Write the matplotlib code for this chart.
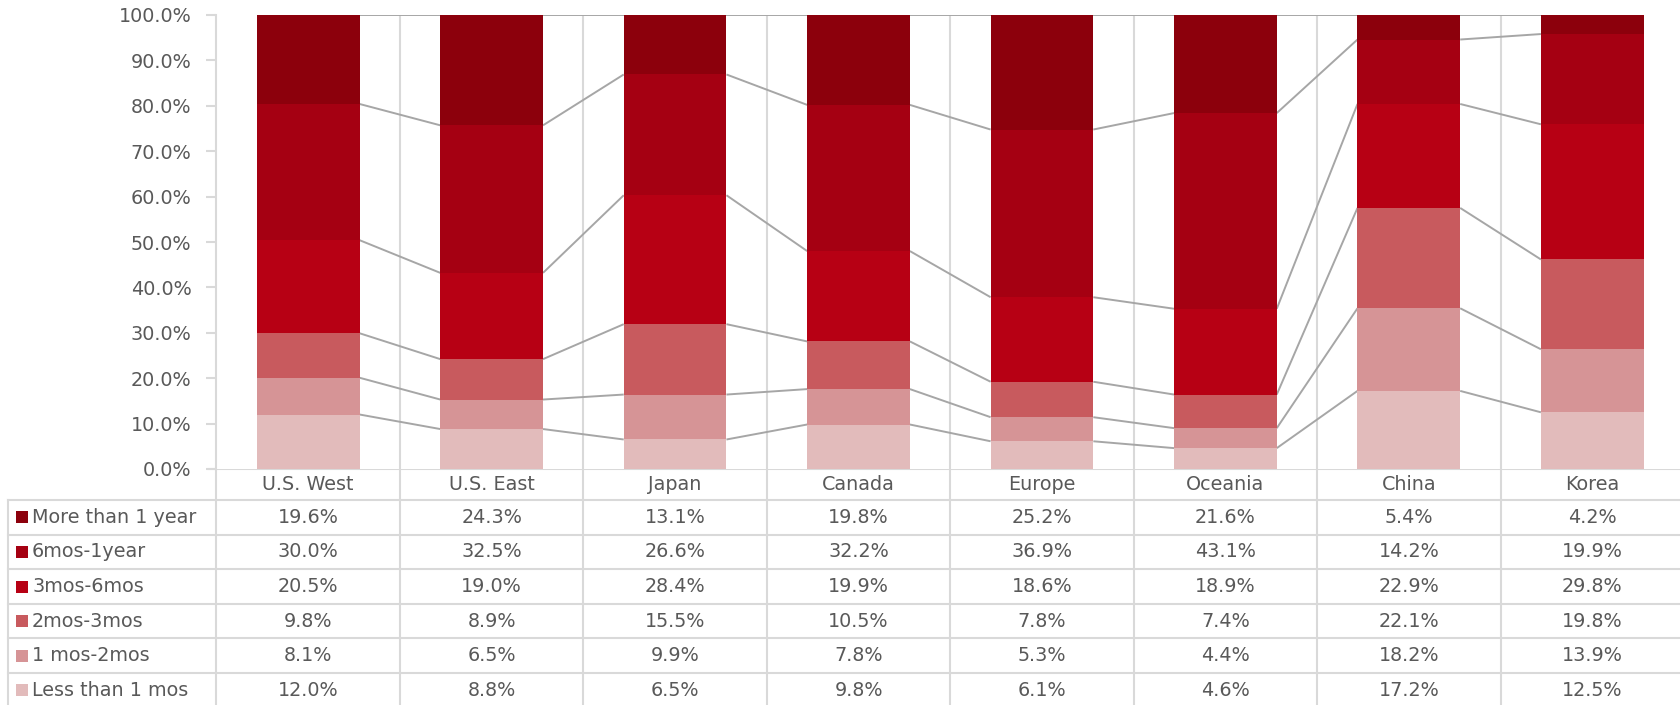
import matplotlib
matplotlib.use("Agg")
import matplotlib.pyplot as plt
import numpy as np
from matplotlib.patches import Rectangle

plt.rcParams["font.family"] = ["DejaVu Sans"]

categories = ["U.S. West", "U.S. East", "Japan", "Canada", "Europe", "Oceania", "China", "Korea"]

# stacked bottom -> top
series_names = ["Less than 1 mos", "1 mos-2mos", "2mos-3mos", "3mos-6mos", "6mos-1year", "More than 1 year"]
less_1mos = [12.0, 8.8, 6.5, 9.8, 6.1, 4.6, 17.2, 12.5]
mos_1_2 = [8.1, 6.5, 9.9, 7.8, 5.3, 4.4, 18.2, 13.9]
mos_2_3 = [9.8, 8.9, 15.5, 10.5, 7.8, 7.4, 22.1, 19.8]
mos_3_6 = [20.5, 19.0, 28.4, 19.9, 18.6, 18.9, 22.9, 29.8]
mos_6_12 = [30.0, 32.5, 26.6, 32.2, 36.9, 43.1, 14.2, 19.9]
more_1yr = [19.6, 24.3, 13.1, 19.8, 25.2, 21.6, 5.4, 4.2]
series = [less_1mos, mos_1_2, mos_2_3, mos_3_6, mos_6_12, more_1yr]
colors = ["#E2BBBB", "#D69496", "#C85A5E", "#B70014", "#A50012", "#8C000C"]

TXT = "#595959"
GRID = "#D9D9D9"
SER = "#A6A6A6"
W, H = 1681, 705
FS = 13.8

fig = plt.figure(figsize=(W / 100, H / 100), dpi=100)

# plot area in pixels (from top-left)
left_px, right_px, top_px, base_px = 216.5, 1684.0, 15.0, 469.0
col_w = (right_px - left_px) / len(categories)
ax = fig.add_axes([left_px / W, (H - base_px) / H, (right_px - left_px) / W, (base_px - top_px) / H])
ax.set_xlim(-0.5, len(categories) - 0.5)
ax.set_ylim(0, 100)

vals = np.array(series, dtype=float)
vals = vals / vals.sum(axis=0) * 100
x = np.arange(len(categories))
bw = 0.56
bottom = np.zeros(len(categories))
tops = []
for v, c in zip(vals, colors):
    ax.bar(x, v, bw, bottom=bottom, color=c, edgecolor="none", zorder=3)
    bottom = bottom + v
    tops.append(bottom.copy())

# series lines
for t in tops:
    for j in range(len(categories) - 1):
        ax.plot([x[j] + bw / 2, x[j + 1] - bw / 2], [t[j], t[j + 1]], color=SER, lw=1.4, zorder=2,
                solid_capstyle="butt")

for k in range(1, len(categories)):
    ax.axvline(k - 0.5, color=GRID, lw=1.5, zorder=1)

for s in ["top", "right", "bottom"]:
    ax.spines[s].set_visible(False)
ax.spines["left"].set_color(GRID)
ax.spines["left"].set_linewidth(1.5)
ax.set_yticks(np.arange(0, 101, 10))
ax.set_yticklabels([f"{t:.1f}%" for t in np.arange(0, 101, 10)], color=TXT, fontsize=FS)
ax.tick_params(axis="y", length=7, width=1.5, color=GRID, pad=11)
ax.set_xticks([])

# data table drawn in figure pixel coordinates
tab = fig.add_axes([0, 0, 1, 1], zorder=-1)
tab.set_xlim(0, W)
tab.set_ylim(H, 0)
tab.axis("off")

tab_left = 8.0
header_bot = 500.0
row_h = 34.6
row_tops = [header_bot + i * row_h for i in range(len(series_names))]

# horizontal lines
tab.plot([left_px - 7, W], [base_px, base_px], color=GRID, lw=1.5)
for yy in row_tops + [header_bot + len(series_names) * row_h]:
    tab.plot([tab_left, W], [yy, yy], color=GRID, lw=1.5)
# vertical lines
tab.plot([tab_left, tab_left], [header_bot, H], color=GRID, lw=1.5)
for k in range(len(categories) + 1):
    xx = left_px + k * col_w
    tab.plot([xx, xx], [base_px, H], color=GRID, lw=1.5)

for j, cat in enumerate(categories):
    tab.text(left_px + (j + 0.5) * col_w, (base_px + header_bot) / 2, cat, ha="center", va="center",
             color=TXT, fontsize=FS)

for i in range(len(series_names)):
    s_idx = len(series_names) - 1 - i
    yc = row_tops[i] + row_h / 2
    tab.add_patch(Rectangle((16, yc - 6), 12, 12, color=colors[s_idx], lw=0))
    tab.text(32, yc, series_names[s_idx], ha="left", va="center", color=TXT, fontsize=FS)
    for j in range(len(categories)):
        tab.text(left_px + (j + 0.5) * col_w, yc, f"{series[s_idx][j]:.1f}%", ha="center", va="center",
                 color=TXT, fontsize=FS)

fig.savefig("out.png", dpi=100)
